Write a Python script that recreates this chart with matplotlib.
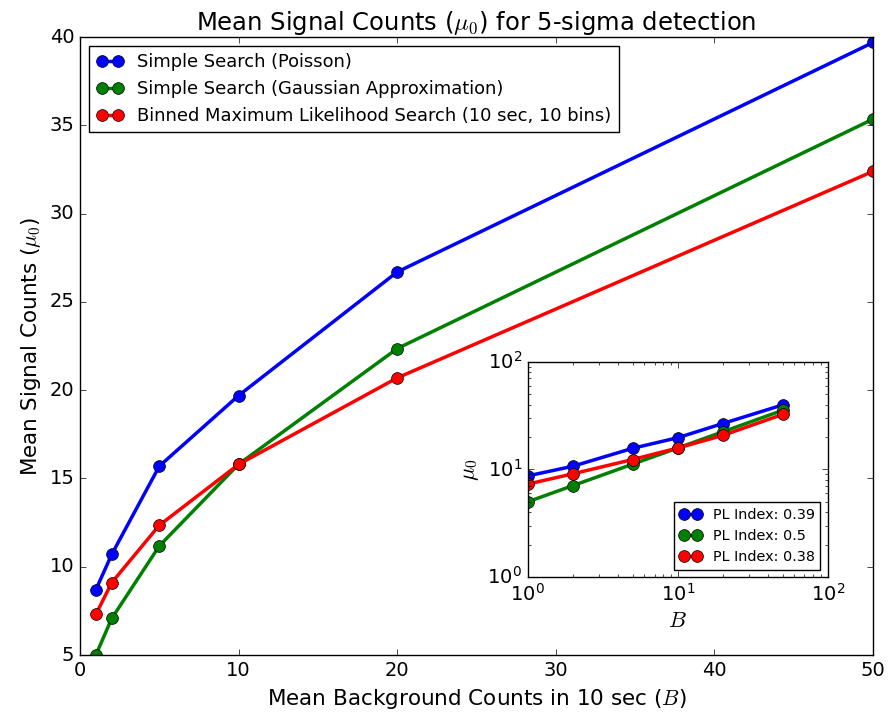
import numpy as np
import matplotlib
matplotlib.use('Agg')
import matplotlib.pyplot as plt

# Data
background = [1, 2, 5, 10, 20, 50]
poisson = [8.7, 10.7, 15.7, 19.7, 26.7, 39.7]
gaussian = [5.0, 7.07, 11.18, 15.81, 22.36, 35.36]
binned_ml = [7.3, 9.1, 12.35, 15.8, 20.7, 32.4]

labels = ["Simple Search (Poisson)",
          "Simple Search (Gaussian Approximation)",
          "Binned Maximum Likelihood Search (10 sec, 10 bins)"]
pl_labels = ["PL Index: 0.39", "PL Index: 0.5", "PL Index: 0.38"]
colors = ['b', 'g', 'r']

plt.style.use('classic')

fig = plt.figure(figsize=(8.9, 7.15), dpi=100)
ax = fig.add_axes([0.0899, 0.0839, 0.8911, 0.8641])

series = [poisson, gaussian, binned_ml]
for vals, lab, c in zip(series, labels, colors):
    ax.plot(background, vals, '-o', color=c, lw=2.5, ms=8.5, label=lab)

ax.set_xlim(0, 50)
ax.set_ylim(5, 40)
ax.tick_params(labelsize=14)
ax.set_xlabel(r"Mean Background Counts in 10 sec ($B$)", fontsize=15.5)
ax.set_ylabel(r"Mean Signal Counts ($\mu_0$)", fontsize=15.5)
ax.set_title(r"Mean Signal Counts ($\mu_0$) for 5-sigma detection", fontsize=17.5)
ax.legend(loc='upper left', fontsize=12.9, numpoints=2, handlelength=1.5)

# Inset with log-log view
ins = fig.add_axes([0.593, 0.193, 0.337, 0.301])
for vals, lab, c in zip(series, pl_labels, colors):
    ins.loglog(background, vals, '-o', color=c, lw=2.5, ms=8.5, label=lab)
ins.set_xlim(1, 100)
ins.set_ylim(1, 100)
ins.tick_params(labelsize=14)
ins.set_xlabel(r"$B$", fontsize=16)
ins.set_ylabel(r"$\mu_0$", fontsize=16)
ins.legend(loc='lower right', fontsize=10.4, numpoints=2, handlelength=1.5)

fig.savefig('out.png', dpi=100)
